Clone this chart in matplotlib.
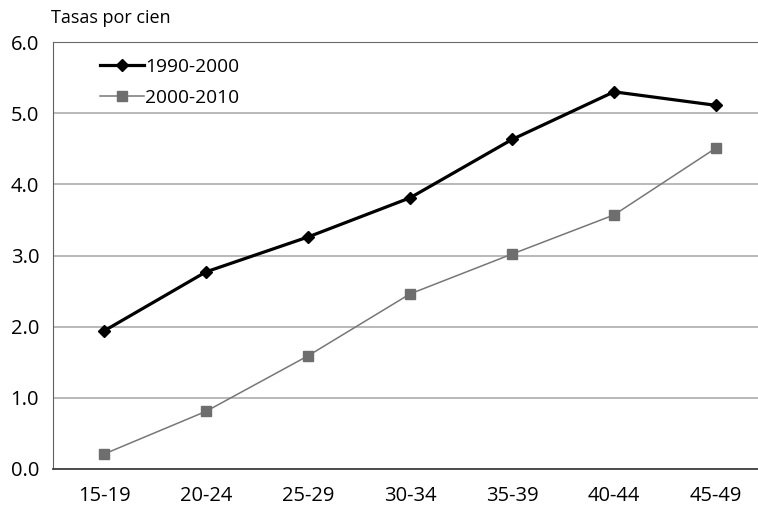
import matplotlib
matplotlib.use('Agg')
from matplotlib import pyplot as plt

# data
age_groups = ['15-19', '20-24', '25-29', '30-34', '35-39', '40-44', '45-49']
rates_1990_2000 = [1.94, 2.77, 3.26, 3.81, 4.63, 5.30, 5.11]
rates_2000_2010 = [0.21, 0.81, 1.59, 2.46, 3.02, 3.57, 4.51]
y_ticks = [0.0, 1.0, 2.0, 3.0, 4.0, 5.0, 6.0]

plt.rcParams['font.family'] = ['Open Sans', 'DejaVu Sans']

fig = plt.figure(figsize=(7.58, 5.08), dpi=100)
ax = fig.add_axes([53 / 758, 1 - 469 / 508, 714 / 758, 427 / 508])

x = range(len(age_groups))
ax.plot(x, rates_1990_2000, color='black', linewidth=2.3, marker='D',
        markersize=6.5, label='1990-2000', zorder=4)
ax.plot(x, rates_2000_2010, color='#777777', linewidth=1.1, marker='s',
        markersize=7.5, markerfacecolor='#6e6e6e', markeredgecolor='#6e6e6e',
        label='2000-2010', zorder=3)

ax.set_xlim(-0.5, len(age_groups) - 0.5)
ax.set_ylim(0, 6)
ax.set_yticks(y_ticks)
ax.set_yticklabels([f'{v:.1f}' for v in y_ticks])
ax.set_xticks(list(x))
ax.set_xticklabels(age_groups)
ax.tick_params(axis='both', length=0, labelsize=14.5, colors='black')
ax.tick_params(axis='y', pad=10)
ax.tick_params(axis='x', pad=12)

ax.grid(axis='y', color='#a6a6a6', linewidth=1.1)
ax.set_axisbelow(True)
ax.spines['right'].set_visible(False)
ax.spines['top'].set_color('#6a6a6a')
ax.spines['left'].set_color('#606060')
ax.spines['bottom'].set_color('#404040')
ax.spines['bottom'].set_linewidth(1.3)

leg = ax.legend(loc='upper left', bbox_to_anchor=(0.05, 0.99), frameon=False,
                fontsize=13.8, handlelength=2.3, handletextpad=0.05,
                labelspacing=0.7, borderaxespad=0.2)

fig.text(51 / 758, 1 - 18 / 508, 'Tasas por cien', fontsize=13, va='center', ha='left')

fig.savefig('out.png', dpi=100)
